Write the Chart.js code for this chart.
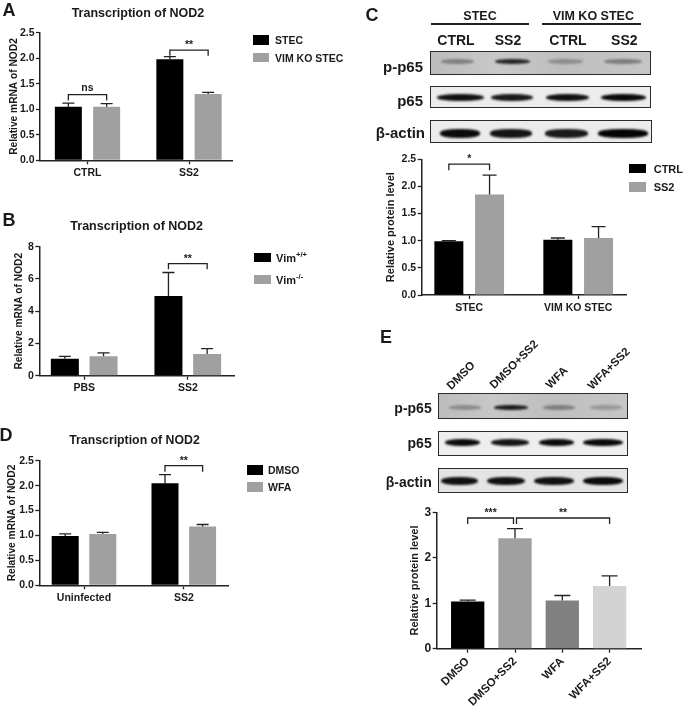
<!DOCTYPE html>
<html>
<head>
<meta charset="utf-8">
<title>NOD2</title>
<script src="https://cdn.jsdelivr.net/npm/chart.js@4"></script>
<style>
  html, body { margin: 0; padding: 0; background: #fff; }
  #page { position: relative; width: 685px; height: 709px; overflow: hidden; font-family: "Liberation Sans", Arial, sans-serif; font-weight: bold; color: #1a1a1a; filter: blur(0.35px); }
  canvas { position: absolute; }
  .t { position: absolute; white-space: nowrap; line-height: 1; }
  .sw, .box, .rule, .band { position: absolute; }
  .box { box-sizing: border-box; border: 1.5px solid #2a2a2a; overflow: hidden; }
  .band { filter: blur(1.2px); border-radius: 45%; }
  sup { font-size: 0.7em; line-height: 0; }
</style>
</head>
<body>
<div id="page"></div>
<script>
// panel A
const aGroups = ['CTRL', 'SS2'];
const aStec = [1.05, 1.98];
const aStecTop = [1.12, 2.03];
const aKo = [1.05, 1.30];
const aKoTop = [1.11, 1.33];
const aTicks = [0, 0.5, 1.0, 1.5, 2.0, 2.5];

// panel B
const bGroups = ['PBS', 'SS2'];
const bWt = [1.05, 4.95];
const bWtTop = [1.2, 6.4];
const bKo = [1.2, 1.35];
const bKoTop = [1.42, 1.68];
const bTicks = [0, 2, 4, 6, 8];

// panel C
const cGroups = ['STEC', 'VIM KO STEC'];
const cCtrl = [0.99, 1.02];
const cCtrlTop = [1.0, 1.05];
const cSs2 = [1.85, 1.05];
const cSs2Top = [2.21, 1.26];

// panel D
const dGroups = ['Uninfected', 'SS2'];
const dDmso = [0.99, 2.05];
const dDmsoTop = [1.03, 2.22];
const dWfa = [1.03, 1.18];
const dWfaTop = [1.06, 1.22];

// panel E
const eGroups = ['DMSO', 'DMSO+SS2', 'WFA', 'WFA+SS2'];
const eValues = [1.04, 2.43, 1.06, 1.38];
const eTops = [1.07, 2.64, 1.17, 1.60];
const eTicks = [0, 1, 2, 3];

const BLACK = '#000000';
const GRAY = '#a0a0a0';
const eColors = [BLACK, GRAY, '#808080', '#d3d3d3'];
const INK = '#222222';
const page = document.getElementById('page');

function text(str, x, y, size, align, html) {
  const el = document.createElement('div');
  el.className = 't';
  el.style.left = x + 'px';
  el.style.top = y + 'px';
  el.style.fontSize = size + 'px';
  const shift = align === 'right' ? '-100%' : align === 'left' ? '0' : '-50%';
  el.style.transform = 'translate(' + shift + ',-50%)';
  if (html) el.innerHTML = str; else el.textContent = str;
  page.appendChild(el);
  return el;
}

function slanted(str, x, y, size) {
  const el = text(str, x, y, size, 'left');
  el.style.transformOrigin = '0 50%';
  el.style.transform = 'translateY(-50%) rotate(-45deg)';
}

function rect(cls, x, y, w, h, bg, parent) {
  const el = document.createElement('div');
  el.className = cls;
  el.style.left = x + 'px';
  el.style.top = y + 'px';
  el.style.width = w + 'px';
  el.style.height = h + 'px';
  el.style.background = bg;
  (parent || page).appendChild(el);
  return el;
}

function legend(names, x, y1, y2, textX, size) {
  rect('sw', x, y1, 16.5, 9.5, BLACK);
  rect('sw', x, y2, 16.5, 9.5, GRAY);
  text(names[0], textX, y1 + 5, size || 10.5, 'left', true);
  text(names[1], textX, y2 + 5, size || 10.5, 'left', true);
}

// error whiskers and significance brackets, all placed through the chart's scales
function marksPlugin(tops, brackets, capW) {
  return {
    id: 'marks',
    afterDatasetsDraw(chart) {
      const c = chart.ctx, ys = chart.scales.y;
      c.save();
      c.strokeStyle = INK;
      c.fillStyle = INK;
      c.lineWidth = 1.3;
      chart.data.datasets.forEach((ds, d) => {
        chart.getDatasetMeta(d).data.forEach((bar, i) => {
          const yt = ys.getPixelForValue(tops[d][i]);
          c.beginPath();
          c.moveTo(bar.x, bar.y);
          c.lineTo(bar.x, yt);
          c.moveTo(bar.x - capW / 2, yt);
          c.lineTo(bar.x + capW / 2, yt);
          c.stroke();
        });
      });
      brackets.forEach(b => {
        const xa = chart.getDatasetMeta(b.from[0]).data[b.from[1]].x + (b.dxA || 0);
        const xb = chart.getDatasetMeta(b.to[0]).data[b.to[1]].x + (b.dxB || 0);
        const yt = ys.getPixelForValue(b.top);
        const yd = ys.getPixelForValue(b.end);
        c.beginPath();
        c.moveTo(xa, yd);
        c.lineTo(xa, yt);
        c.lineTo(xb, yt);
        c.lineTo(xb, yd);
        c.stroke();
        c.font = 'bold 10.5px "Liberation Sans", Arial, sans-serif';
        c.textAlign = 'center';
        c.textBaseline = 'middle';
        c.fillText(b.text, (xa + xb) / 2, yt - (b.text === 'ns' ? 7 : 5));
      });
      c.restore();
    }
  };
}

function panel(p) {
  const cv = document.createElement('canvas');
  cv.width = p.w;
  cv.height = p.h;
  cv.style.left = p.l + 'px';
  cv.style.top = p.t + 'px';
  page.appendChild(cv);

  const spacing = p.centres[1] - p.centres[0];
  const n = p.series.length;
  const tickFont = { family: '"Liberation Sans", Arial, sans-serif', weight: 'bold', size: p.tickSize || 10.5 };
  const titleFont = { family: '"Liberation Sans", Arial, sans-serif', weight: 'bold', size: p.titleSize };
  const slots = p.groups.map((g, i) => i);

  return new Chart(cv, {
    type: 'bar',
    data: {
      datasets: p.series.map(s => ({
        label: s.label,
        data: s.values.map((v, i) => ({ x: slots[i], y: v })),
        backgroundColor: s.color,
        borderWidth: 0,
        categoryPercentage: n * p.pitch / spacing,
        barPercentage: p.barW / p.pitch
      }))
    },
    options: {
      responsive: false,
      animation: false,
      events: [],
      layout: {
        padding: { left: 0, top: p.yTop - p.t, right: p.l + p.w - p.x1, bottom: 0 }
      },
      plugins: { legend: { display: false }, tooltip: { enabled: false } },
      scales: {
        x: {
          type: 'linear',
          offset: false,
          min: (p.x0 - p.centres[0]) / spacing,
          max: (p.x1 - p.centres[0]) / spacing,
          afterBuildTicks: s => { s.ticks = slots.map(v => ({ value: v })); },
          afterFit: s => { s.height = p.t + p.h - p.yBot; },
          border: { color: INK, width: 1.5 },
          grid: { offset: false, drawOnChartArea: false, color: INK, tickLength: 4, tickWidth: 1.3 },
          ticks: {
            color: '#1a1a1a',
            font: p.xFont || tickFont,
            autoSkip: false,
            padding: p.xPad === undefined ? 2.5 : p.xPad,
            minRotation: p.xRot || 0,
            maxRotation: p.xRot || 0,
            callback: v => p.groups[v]
          }
        },
        y: {
          min: p.ticks[0],
          max: p.ticks[p.ticks.length - 1],
          afterBuildTicks: s => { s.ticks = p.ticks.map(v => ({ value: v })); },
          afterFit: s => { s.width = p.x0 - p.l; },
          border: { color: INK, width: 1.5 },
          grid: { drawOnChartArea: false, color: INK, tickLength: 4, tickWidth: 1.3 },
          title: {
            display: true,
            text: p.yTitle,
            color: '#1a1a1a',
            font: titleFont,
            padding: { top: p.titleX - p.l - p.titleSize * 0.6, bottom: 0 }
          },
          ticks: {
            color: '#1a1a1a',
            font: tickFont,
            padding: 1.5,
            callback: v => p.tickDigits ? v.toFixed(p.tickDigits) : v
          }
        }
      }
    },
    plugins: [marksPlugin(p.tops, p.brackets, p.capW)]
  });
}

panel({
  l: 0, t: 20, w: 245, h: 165, x0: 40, x1: 232, yTop: 32.7, yBot: 160.3,
  centres: [87.5, 189], barW: 27, pitch: 38.3, groups: aGroups, ticks: aTicks, tickDigits: 1,
  yTitle: 'Relative mRNA of NOD2', titleX: 14, titleSize: 10.2, capW: 12,
  series: [{ label: 'STEC', values: aStec, color: BLACK }, { label: 'VIM KO STEC', values: aKo, color: GRAY }],
  tops: [aStecTop, aKoTop],
  brackets: [
    { from: [0, 0], to: [1, 0], top: 1.286, end: 1.17, text: 'ns' },
    { from: [0, 1], to: [1, 1], top: 2.16, end: 2.05, text: '**' }
  ]
});

panel({
  l: 0, t: 235, w: 245, h: 165, x0: 39.3, x1: 234, yTop: 246.7, yBot: 375.7,
  centres: [84.2, 187.8], barW: 28, pitch: 38.7, groups: bGroups, ticks: bTicks,
  yTitle: 'Relative mRNA of NOD2', titleX: 19.3, titleSize: 10.2, capW: 12,
  series: [{ label: 'Vim+/+', values: bWt, color: BLACK }, { label: 'Vim-/-', values: bKo, color: GRAY }],
  tops: [bWtTop, bKoTop],
  brackets: [{ from: [0, 1], to: [1, 1], top: 6.95, end: 6.6, text: '**' }]
});

panel({
  l: 0, t: 450, w: 245, h: 165, x0: 39.3, x1: 228.3, yTop: 460.7, yBot: 585.3,
  centres: [84, 183.8], barW: 27, pitch: 37.6, groups: dGroups, ticks: aTicks, tickDigits: 1,
  yTitle: 'Relative mRNA of NOD2', titleX: 11.7, titleSize: 10.2, capW: 12,
  series: [{ label: 'DMSO', values: dDmso, color: BLACK }, { label: 'WFA', values: dWfa, color: GRAY }],
  tops: [dDmsoTop, dWfaTop],
  brackets: [{ from: [0, 1], to: [1, 1], top: 2.40, end: 2.28, text: '**' }]
});

panel({
  l: 380, t: 148, w: 250, h: 175, x0: 421.7, x1: 626.7, yTop: 159.3, yBot: 295,
  centres: [469.2, 578.2], barW: 29, pitch: 40.7, groups: cGroups, ticks: aTicks, tickDigits: 1,
  yTitle: 'Relative protein level', titleX: 390.7, titleSize: 11, capW: 14,
  series: [{ label: 'CTRL', values: cCtrl, color: BLACK }, { label: 'SS2', values: cSs2, color: GRAY }],
  tops: [cCtrlTop, cSs2Top],
  brackets: [{ from: [0, 0], to: [1, 0], top: 2.41, end: 2.30, text: '*' }]
});

panel({
  l: 400, t: 500, w: 245, h: 209, x0: 436.7, x1: 641.7, yTop: 512.3, yBot: 648.7,
  centres: [467.7, 515, 562.3, 609.3], barW: 33.3, pitch: 47.3, groups: eGroups, ticks: eTicks,
  yTitle: 'Relative protein level', titleX: 415, titleSize: 11, capW: 16, tickSize: 12, xRot: 45, xPad: 2,
  xFont: { family: '"Liberation Sans", Arial, sans-serif', weight: 'bold', size: 11.5 },
  series: [{ label: 'Protein', values: eValues, color: eColors }],
  tops: [eTops],
  brackets: [
    { from: [0, 0], to: [0, 1], top: 2.875, end: 2.74, text: '***', dxB: -1.5 },
    { from: [0, 1], to: [0, 3], top: 2.875, end: 2.74, text: '**', dxA: 1.5 }
  ]
});

// panel letters
text('A', 9, 10, 18);
text('B', 9, 220, 18);
text('C', 372, 15, 18);
text('D', 6, 435, 18);
text('E', 386, 337, 18);

// titles
text('Transcription of NOD2', 138, 12.5, 12.5);
text('Transcription of NOD2', 136.7, 225.7, 12.5);
text('Transcription of NOD2', 134.5, 440, 12.3);

// legends
legend(['STEC', 'VIM KO STEC'], 252.7, 35, 52.5, 275);
legend(['Vim<sup>+/+</sup>', 'Vim<sup>-/-</sup>'], 254, 252.7, 274.7, 276, 11);
legend(['DMSO', 'WFA'], 246.7, 465, 482, 268);
legend(['CTRL', 'SS2'], 629.3, 163.7, 182, 653.7, 11);

// western blots
function blot(x0, y0, x1, y1, bg, bandY, bandH, bands) {
  const box = rect('box', x0, y0, x1 - x0, y1 - y0, bg);
  bands.forEach(b => {
    rect('band', b[0] - b[1] / 2 - x0, bandY - bandH / 2 - y0, b[1], bandH, b[2], box);
  });
}

const GEL = 'linear-gradient(90deg,#bcbcbc,#c8c8c8 30%,#bebebe 60%,#c6c6c6)';

blot(430, 51, 650.7, 74.7, GEL, 60, 5, [
  [456.7, 33, '#808080'], [511, 35, '#262626'], [564, 35, '#8c8c8c'], [622, 38, '#7c7c7c']
]);
blot(430, 85.7, 650.7, 108.3, '#ececec', 96.7, 7.5, [
  [459.7, 47, '#111'], [511, 42, '#1a1a1a'], [566.7, 43, '#111'], [622.5, 45, '#0a0a0a']
]);
blot(430, 120, 651.7, 143.3, '#ececec', 132.3, 8.5, [
  [458.7, 40, '#0a0a0a'], [510, 42, '#151515'], [565, 43, '#1a1a1a'], [622, 50, '#050505']
]);

blot(437.7, 393.3, 628.3, 419, GEL, 406.7, 5, [
  [464, 32, '#8c8c8c'], [510.3, 34, '#1c1c1c'], [558, 32, '#7e7e7e'], [605.5, 32, '#989898']
]);
blot(437.7, 430.7, 628.3, 455.7, '#eeeeee', 441.3, 7.5, [
  [461.7, 35, '#0c0c0c'], [509.5, 38, '#161616'], [556, 35, '#0c0c0c'], [601.7, 40, '#0a0a0a']
]);
blot(437.7, 468.3, 628.3, 493.3, '#e4e4e4', 480, 8.5, [
  [458.3, 37, '#101010'], [505, 38, '#111'], [553, 40, '#111'], [601.7, 40, '#0a0a0a']
]);

// blot labels, panel C
text('STEC', 480, 15.7, 12.5);
text('VIM KO STEC', 593.3, 15.7, 12.5);
rect('rule', 430.7, 23.2, 98.6, 1.6, '#222');
rect('rule', 542.3, 23.2, 98.7, 1.6, '#222');
['CTRL', 'SS2', 'CTRL', 'SS2'].forEach((s, i) => text(s, [456, 508, 568, 624.3][i], 40, 14));
text('p-p65', 423, 66, 15, 'right');
text('p65', 423, 100, 15, 'right');
text('β-actin', 425, 132, 15, 'right');

// blot labels, panel E
eGroups.forEach((s, i) => slanted(s, [449, 491.7, 547.7, 590][i], [388, 387, 386.7, 388][i], 11.5));
text('p-p65', 431.7, 407.7, 14, 'right');
text('p65', 431.7, 443.3, 14, 'right');
text('β-actin', 431.7, 482, 14, 'right');
</script>
</body>
</html>
